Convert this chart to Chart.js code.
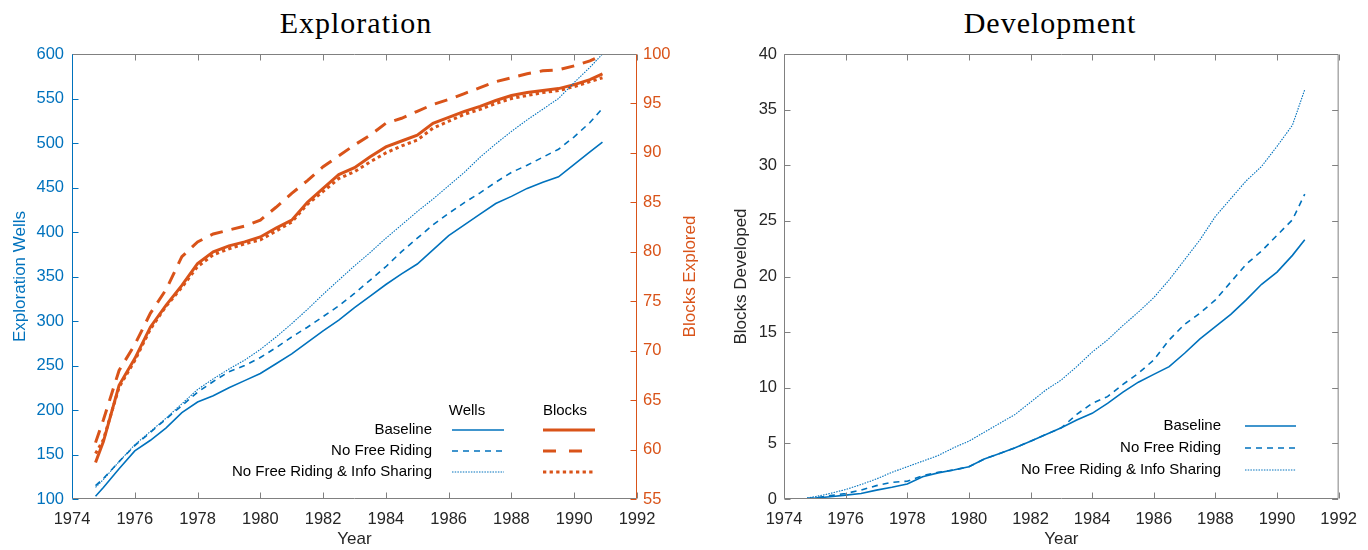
<!DOCTYPE html>
<html>
<head>
<meta charset="utf-8">
<script src="https://cdn.jsdelivr.net/npm/chart.js@4.4.1/dist/chart.umd.min.js"></script>
<style>
  body { margin: 0; background: #fff; width: 1368px; height: 550px; position: relative; overflow: hidden; }
  canvas { position: absolute; top: 0; }
  #c1 { left: 0; }
  #c2 { left: 700px; }
  .ttl { position: absolute; top: 8px; width: 300px; text-align: center; color: #000;
         font: 30px "Liberation Serif", serif; letter-spacing: 1px; line-height: 30px; }
</style>
</head>
<body>
<div class="ttl" style="left:206px">Exploration</div>
<div class="ttl" style="left:900px">Development</div>
<canvas id="c1" width="710" height="550"></canvas>
<canvas id="c2" width="668" height="550"></canvas>
<script>
// data
const years = [1974.75, 1975, 1975.5, 1976, 1976.5, 1977, 1977.5, 1978, 1978.5, 1979, 1979.5, 1980, 1980.5, 1981, 1981.5, 1982,
  1982.5, 1983, 1983.5, 1984, 1984.5, 1985, 1985.5, 1986, 1986.5, 1987, 1987.5, 1988, 1988.5, 1989, 1989.5, 1990, 1990.5, 1990.9];
const scenarios = ["Baseline", "No Free Riding", "No Free Riding & Info Sharing"];

const wellsBaseline = [103, 113, 134, 154, 166, 180, 197, 209, 216, 225, 233, 241, 252, 263, 276, 289,
  301, 315, 328, 341, 353, 364, 380, 396, 408, 420, 432, 440, 449, 456, 462, 476, 490, 501];
const wellsNoFR = [115, 123, 142, 160, 175, 190, 205, 220, 232, 243, 250, 259, 270, 282, 293, 305,
  317, 331, 346, 361, 378, 393, 408, 421, 433, 444, 456, 467, 475, 484, 493, 507, 523, 539];
const wellsNoFRInfo = [113, 122, 142, 161, 176, 191, 207, 223, 235, 246, 256, 268, 282, 297, 313, 330,
  346, 362, 377, 393, 408, 423, 437, 452, 467, 484, 499, 513, 526, 538, 550, 568, 585, 600];

const blocksBaseline = [58.7, 60.8, 66.5, 69.2, 72.4, 74.6, 76.6, 78.8, 80.0, 80.6, 81.0, 81.5, 82.4, 83.2, 85.0, 86.4,
  87.8, 88.5, 89.6, 90.6, 91.2, 91.8, 93.0, 93.6, 94.2, 94.7, 95.3, 95.8, 96.1, 96.3, 96.5, 96.9, 97.4, 98.0];
const blocksNoFR = [60.7, 63.0, 68.0, 70.6, 73.8, 76.2, 79.5, 81.0, 81.8, 82.2, 82.6, 83.2, 84.5, 85.9, 87.2, 88.6,
  89.7, 90.8, 91.8, 93.0, 93.5, 94.2, 94.9, 95.4, 96.0, 96.6, 97.2, 97.6, 98.0, 98.3, 98.4, 98.8, 99.3, 99.9];
const blocksNoFRInfo = [59.6, 61.0, 66.3, 69.0, 72.2, 74.5, 76.4, 78.5, 79.7, 80.3, 80.8, 81.2, 82.1, 83.0, 84.8, 86.1,
  87.4, 88.1, 89.1, 90.0, 90.7, 91.3, 92.5, 93.2, 93.9, 94.4, 95.0, 95.5, 95.8, 96.1, 96.3, 96.7, 97.2, 97.6];

const devBaseline = [0.05, 0.08, 0.2, 0.35, 0.5, 0.8, 1.05, 1.35, 2.0, 2.35, 2.6, 2.9, 3.6, 4.1, 4.6, 5.2,
  5.8, 6.4, 7.1, 7.7, 8.6, 9.6, 10.5, 11.2, 11.9, 13.1, 14.4, 15.5, 16.6, 17.9, 19.3, 20.4, 21.9, 23.3];
const devNoFR = [0.05, 0.1, 0.3, 0.5, 0.8, 1.2, 1.5, 1.6, 2.1, 2.4, 2.6, 2.9, 3.6, 4.1, 4.6, 5.2,
  5.8, 6.4, 7.6, 8.6, 9.2, 10.3, 11.3, 12.5, 14.3, 15.7, 16.7, 17.9, 19.5, 21.1, 22.3, 23.7, 25.1, 27.4];
const devNoFRInfo = [0.1, 0.2, 0.5, 0.85, 1.3, 1.8, 2.4, 2.9, 3.4, 3.9, 4.6, 5.2, 6.0, 6.8, 7.6, 8.7,
  9.8, 10.7, 11.9, 13.2, 14.3, 15.6, 16.8, 18.1, 19.7, 21.5, 23.3, 25.4, 27.0, 28.6, 29.9, 31.7, 33.6, 36.8];

const BLUE = "#0072BD", ORANGE = "#D95319", TXT = "#262626", AXIS = "#808080";
const FONT = '"Liberation Sans", Arial, sans-serif';

const pts = (vals) => years.map((x, i) => ({ x: x, y: vals[i] }));

function line(ds, vals, color, width, dash, axis) {
  return {
    label: ds, data: pts(vals), borderColor: color, borderWidth: width, borderDash: dash,
    pointRadius: 0, fill: false, tension: 0, yAxisID: axis
  };
}

// matlab style box with inward ticks
const frame = {
  id: "frame",
  afterDatasetsDraw(chart, args, o) {
    const ctx = chart.ctx, a = chart.chartArea, s = chart.scales;
    const L = a.left + 0.5, R = a.right - 0.5, T = a.top + 0.5, B = a.bottom - 0.5;
    const seg = (x1, y1, x2, y2, c) => {
      ctx.strokeStyle = c; ctx.beginPath(); ctx.moveTo(x1, y1); ctx.lineTo(x2, y2); ctx.stroke();
    };
    ctx.save();
    ctx.lineWidth = 1;
    s.x.ticks.forEach((t) => {
      const px = Math.round(s.x.getPixelForValue(t.value)) + 0.5;
      seg(px, B, px, B - 6, AXIS);
      seg(px, T, px, T + 6, AXIS);
    });
    s.y.ticks.forEach((t) => {
      const py = Math.round(s.y.getPixelForValue(t.value)) + 0.5;
      seg(L, py, L + 6, py, o.leftColor);
      if (!s.y1) seg(R, py, R - 6, py, o.rightColor);
    });
    if (s.y1) {
      s.y1.ticks.forEach((t) => {
        const py = Math.round(s.y1.getPixelForValue(t.value)) + 0.5;
        seg(R, py, R - 6, py, o.rightColor);
      });
    }
    seg(L, T, R, T, AXIS);
    seg(L, B, R, B, AXIS);
    seg(L, T, L, B, o.leftColor);
    seg(R, T, R, B, o.rightColor);
    if (o.rightTitle) {
      ctx.translate(o.rightTitle.x, (a.top + a.bottom) / 2);
      ctx.rotate(-Math.PI / 2);
      ctx.font = "17px " + FONT;
      ctx.fillStyle = o.rightTitle.color;
      ctx.textAlign = "center";
      ctx.textBaseline = "middle";
      ctx.fillText(o.rightTitle.text, 0, 0);
    }
    ctx.restore();
  }
};

const legendBox = {
  id: "legendBox",
  afterDraw(chart, args, o) {
    const ctx = chart.ctx;
    ctx.save();
    ctx.font = "15px " + FONT;
    ctx.fillStyle = "#000";
    ctx.textBaseline = "middle";
    ctx.textAlign = "center";
    (o.headers || []).forEach((h) => ctx.fillText(h.text, h.x, o.headerY));
    ctx.textAlign = "right";
    scenarios.forEach((name, i) => {
      const y = o.rowY[i];
      ctx.fillText(name, o.labelX, y);
      o.samples.forEach((smp) => {
        const ds = chart.data.datasets[smp.first + i];
        ctx.strokeStyle = ds.borderColor;
        ctx.lineWidth = ds.borderWidth;
        ctx.setLineDash(smp.dash ? smp.dash[i] : (ds.borderDash || []));
        ctx.beginPath(); ctx.moveTo(smp.x1, y); ctx.lineTo(smp.x2, y); ctx.stroke();
      });
    });
    ctx.restore();
  }
};

const tickFont = { family: FONT, size: 16.5 };
const titleFont = { family: FONT, size: 17 };
const noGrid = { display: false, drawTicks: false };

function xScale() {
  return {
    type: "linear", min: 1974, max: 1992,
    grid: noGrid, border: { display: false },
    ticks: { stepSize: 2, color: TXT, font: tickFont, padding: 11, maxRotation: 0, autoSkip: false,
      callback: (v) => String(v) },
    title: { display: true, text: "Year", color: TXT, font: titleFont, padding: { top: 0, bottom: 0 } },
    afterFit: (sc) => { sc.height = 51; }
  };
}

new Chart(document.getElementById("c1"), {
  type: "line",
  data: {
    datasets: [
      line(scenarios[0], wellsBaseline, BLUE, 1.6, [], "y"),
      line(scenarios[1], wellsNoFR, BLUE, 1.6, [6, 5], "y"),
      line(scenarios[2], wellsNoFRInfo, BLUE, 1.1, [1.5, 1.2], "y"),
      line(scenarios[0], blocksBaseline, ORANGE, 3, [], "y1"),
      line(scenarios[1], blocksNoFR, ORANGE, 3, [13, 9], "y1"),
      line(scenarios[2], blocksNoFRInfo, ORANGE, 3, [3.3, 3.3], "y1")
    ]
  },
  options: {
    responsive: false, animation: false,
    layout: { padding: { top: 54, left: 0, right: 0, bottom: 0 } },
    plugins: {
      legend: { display: false }, tooltip: { enabled: false },
      frame: { leftColor: BLUE, rightColor: ORANGE, rightTitle: { text: "Blocks Explored", x: 690, color: ORANGE } },
      legendBox: {
        headerY: 411, headers: [{ text: "Wells", x: 467 }, { text: "Blocks", x: 565 }],
        labelX: 432, rowY: [430, 451, 472],
        samples: [{ first: 0, x1: 452, x2: 504 }, { first: 3, x1: 543, x2: 595, dash: [[], [13, 13], [3.3, 3.3]] }]
      }
    },
    scales: {
      x: xScale(),
      y: {
        position: "left", min: 100, max: 600,
        grid: noGrid, border: { display: false },
        ticks: { stepSize: 50, color: BLUE, font: tickFont, padding: 8 },
        title: { display: true, text: "Exploration Wells", color: BLUE, font: titleFont, padding: { top: 10, bottom: 0 } },
        afterFit: (sc) => { sc.width = 72; }
      },
      y1: {
        position: "right", min: 55, max: 100,
        grid: noGrid, border: { display: false },
        ticks: { stepSize: 5, color: ORANGE, font: tickFont, padding: 6 },
        afterFit: (sc) => { sc.width = 73; }
      }
    }
  },
  plugins: [frame, legendBox]
});

new Chart(document.getElementById("c2"), {
  type: "line",
  data: {
    datasets: [
      line(scenarios[0], devBaseline, BLUE, 1.6, [], "y"),
      line(scenarios[1], devNoFR, BLUE, 1.6, [6, 5], "y"),
      line(scenarios[2], devNoFRInfo, BLUE, 1.1, [1.5, 1.2], "y")
    ]
  },
  options: {
    responsive: false, animation: false,
    layout: { padding: { top: 54, left: 0, right: 20, bottom: 0 } },
    plugins: {
      legend: { display: false }, tooltip: { enabled: false },
      frame: { leftColor: AXIS, rightColor: AXIS },
      legendBox: {
        labelX: 521, rowY: [426, 448, 470],
        samples: [{ first: 0, x1: 545, x2: 596 }]
      }
    },
    scales: {
      x: xScale(),
      y: {
        position: "left", min: 0, max: 40,
        grid: noGrid, border: { display: false },
        ticks: { stepSize: 5, color: TXT, font: tickFont, padding: 7 },
        title: { display: true, text: "Blocks Developed", color: TXT, font: titleFont, padding: { top: 31, bottom: 0 } },
        afterFit: (sc) => { sc.width = 84; }
      }
    }
  },
  plugins: [frame, legendBox]
});
</script>
</body>
</html>
